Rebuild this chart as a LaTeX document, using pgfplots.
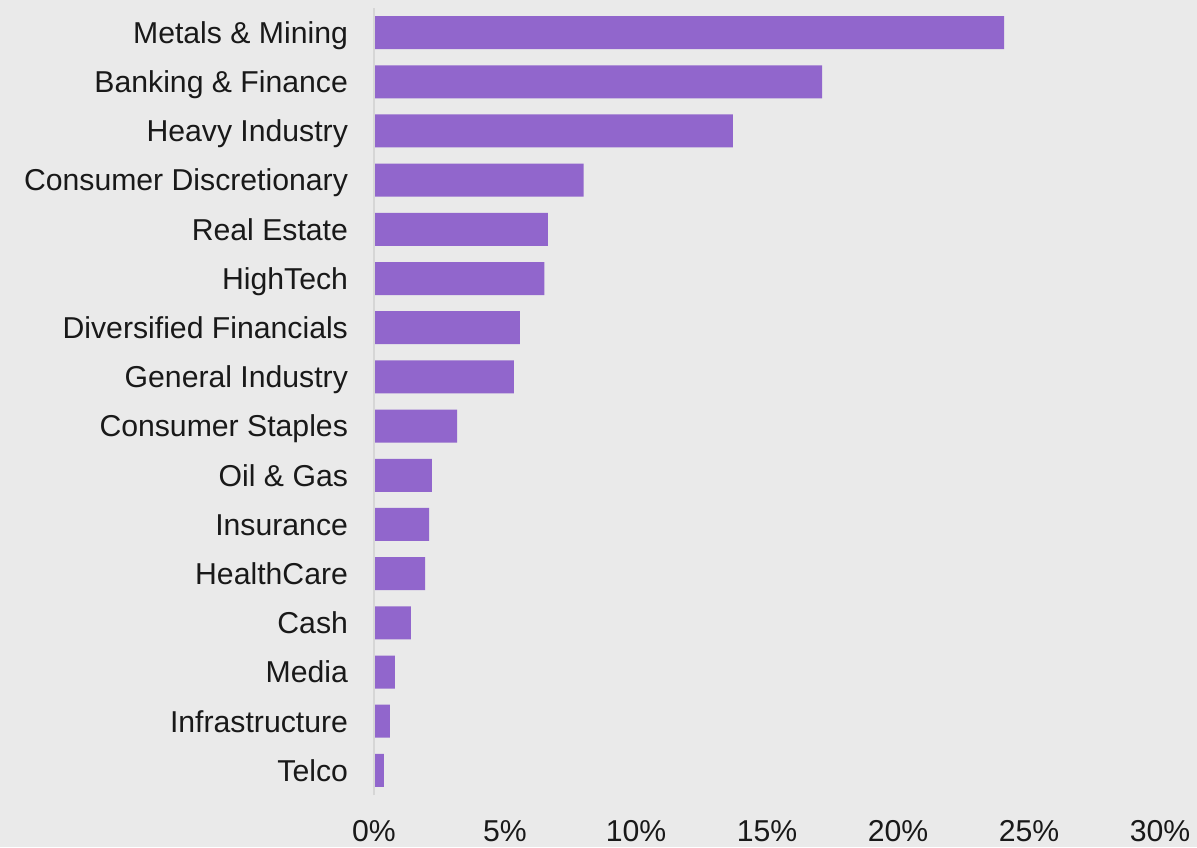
\documentclass[border=0pt]{standalone}
\usepackage{fontspec}
\setmainfont{Liberation Sans}
\usepackage{pgfplots}
\pgfplotsset{compat=1.18}
\definecolor{bgc}{HTML}{EAEAEA}
\definecolor{barc}{HTML}{9166CC}
\definecolor{axc}{HTML}{D6D6D6}
\begin{document}
\begin{tikzpicture}[x=1pt,y=1pt]
\fill[bgc] (0,0) rectangle (598.5,423.5);
\begin{axis}[
  at={(187pt,26pt)}, anchor=south west,
  scale only axis, width=393pt, height=393.5pt,
  xbar, bar width=16.5pt,
  xmin=0, xmax=30, ymin=-0.5, ymax=15.5,
  axis line style={draw=none},
  major tick length=0pt,
  xtick={0,5,10,15,20,25,30},
  xticklabels={0\%,5\%,10\%,15\%,20\%,25\%,30\%},
  ytick={0,...,15},
  yticklabels={Telco,Infrastructure,Media,Cash,HealthCare,Insurance,Oil \& Gas,Consumer Staples,General Industry,Diversified Financials,HighTech,Real Estate,Consumer Discretionary,Heavy Industry,Banking \& Finance,Metals \& Mining},
  tick label style={font=\fontsize{15.1}{18}\selectfont, text=black!90},
  xticklabel style={yshift=-9pt, text height=10.8pt, text depth=0pt},
  yticklabel style={xshift=-9.5pt, text height=10.8pt, text depth=0pt},
  clip=false,
]
\addplot[fill=barc, draw=none] coordinates {
(0.38,0) (0.61,1) (0.80,2) (1.41,3) (1.95,4) (2.10,5) (2.21,6) (3.17,7) (5.34,8) (5.57,9) (6.50,10) (6.64,11) (8.00,12) (13.70,13) (17.10,14) (24.05,15)
};
\draw[axc, line width=1pt] (rel axis cs:0,0) -- (rel axis cs:0,1);
\end{axis}
\pgfresetboundingbox
\useasboundingbox (0,0) rectangle (598.5,423.5);
\end{tikzpicture}
\end{document}
